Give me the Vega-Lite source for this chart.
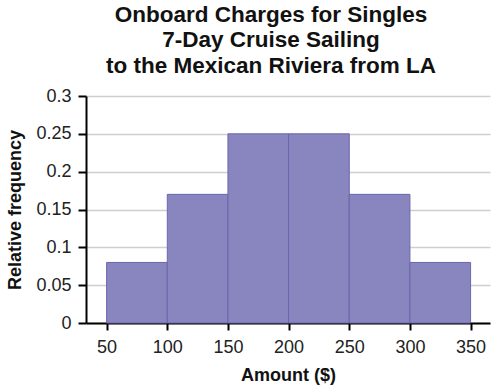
{
  "$schema": "https://vega.github.io/schema/vega-lite/v6.json",
  "autosize": "none",
  "width": 404,
  "height": 227,
  "padding": {"left": 86, "top": 96, "right": 3, "bottom": 67},
  "background": "white",
  "title": {
    "text": ["Onboard Charges for Singles", "7-Day Cruise Sailing", "to the Mexican Riviera from LA"],
    "font": "Liberation Sans",
    "fontSize": 22.5,
    "fontWeight": "bold",
    "color": "#111111",
    "lineHeight": 25.5,
    "anchor": "middle",
    "dx": -17,
    "offset": 10
  },
  "data": {
    "values": [
      {"start": 50, "end": 100, "freq": 0.08},
      {"start": 100, "end": 150, "freq": 0.17},
      {"start": 150, "end": 200, "freq": 0.25},
      {"start": 200, "end": 250, "freq": 0.25},
      {"start": 250, "end": 300, "freq": 0.17},
      {"start": 300, "end": 350, "freq": 0.08}
    ]
  },
  "mark": {"type": "rect", "fill": "#8985bf", "stroke": "#6a66ae", "strokeWidth": 1},
  "encoding": {
    "x": {
      "field": "start",
      "type": "quantitative",
      "scale": {"domain": [33, 366], "nice": false, "zero": false},
      "axis": {
        "title": "Amount ($)",
        "values": [50, 100, 150, 200, 250, 300, 350],
        "grid": false,
        "labelFontSize": 18,
        "labelPadding": 8,
        "tickSize": 7,
        "titlePadding": 10
      }
    },
    "x2": {"field": "end"},
    "y": {
      "field": "freq",
      "type": "quantitative",
      "scale": {"domain": [0, 0.3], "nice": false},
      "axis": {
        "title": "Relative frequency",
        "values": [0, 0.05, 0.1, 0.15, 0.2, 0.25, 0.3],
        "format": "~g",
        "grid": true,
        "labelFontSize": 18,
        "labelPadding": 7,
        "tickSize": 8,
        "titlePadding": 11
      }
    }
  },
  "config": {
    "view": {"stroke": null},
    "axis": {
      "labelFont": "Liberation Sans",
      "titleFont": "Liberation Sans",
      "labelColor": "#222222",
      "titleColor": "#111111",
      "titleFontSize": 18,
      "titleFontWeight": "bold",
      "domainColor": "#000000",
      "domainWidth": 2,
      "tickColor": "#000000",
      "tickWidth": 2,
      "gridColor": "#cfcfcf",
      "gridWidth": 1.5
    }
  }
}
